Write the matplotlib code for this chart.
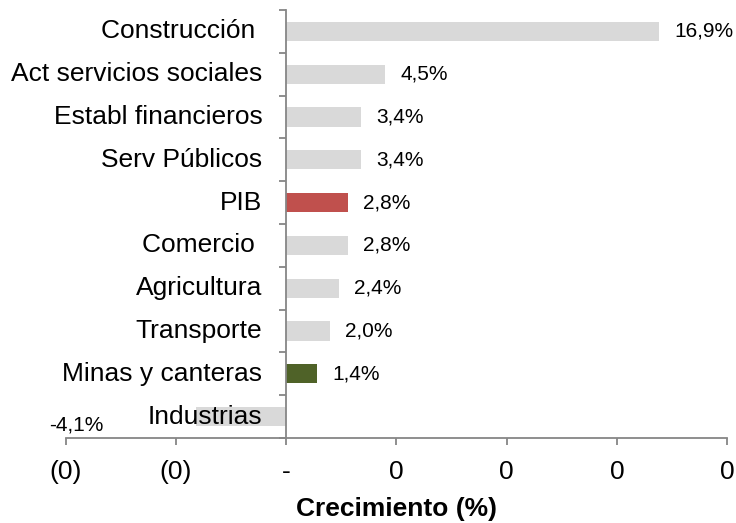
import matplotlib
matplotlib.use("Agg")
import matplotlib.pyplot as plt

plt.rcParams['font.family'] = ['Liberation Sans', 'DejaVu Sans']

categories = ["Construcción ", "Act servicios sociales", "Establ financieros",
              "Serv Públicos", "PIB", "Comercio ", "Agricultura", "Transporte",
              "Minas y canteras", "Industrias"]
values = [16.9, 4.5, 3.4, 3.4, 2.8, 2.8, 2.4, 2.0, 1.4, -4.1]
colors = ["#d9d9d9", "#d9d9d9", "#d9d9d9", "#d9d9d9", "#c0504d",
          "#d9d9d9", "#d9d9d9", "#d9d9d9", "#4f6228", "#d9d9d9"]
xticks = [-0.10, -0.05, 0.0, 0.05, 0.10, 0.15, 0.20]
xtick_labels = ["(0)", "(0)", "-", "0", "0", "0", "0"]

fig = plt.figure(figsize=(7.36, 5.23), dpi=100)
ax = fig.add_axes([0.089, 0.1625, 0.899, 0.8185])

pos = list(range(len(categories)))
vals = [v / 100 for v in values]
ax.barh(pos, vals, height=0.45, color=colors, zorder=1)

ax.set_xlim(-0.10, 0.20)
ax.set_ylim(len(categories) - 0.5, -0.5)

grey = "#868686"
for s in ["top", "right"]:
    ax.spines[s].set_visible(False)
ax.spines["left"].set_position(("data", 0))
ax.spines["left"].set_color(grey)
ax.spines["bottom"].set_color(grey)
ax.spines["left"].set_linewidth(1.3)
ax.spines["bottom"].set_linewidth(1.3)

ax.set_xticks(xticks)
ax.set_xticklabels(xtick_labels, fontsize=19)
ax.tick_params(axis="x", length=5, width=1.3, color=grey, pad=10.5)

ax.set_yticks([p - 0.5 for p in pos] + [len(categories) - 0.5])
ax.set_yticklabels([])
ax.tick_params(axis="y", length=5, width=1.3, color=grey)

for i, (cat, v) in enumerate(zip(categories, vals)):
    ax.annotate(cat, xy=(0, i), xytext=(-17, 0), textcoords="offset points",
                ha="right", va="center", fontsize=19, zorder=3)
    lbl = f"{values[i]:.1f}%".replace(".", ",")
    if v >= 0:
        ax.annotate(lbl, xy=(v, i), xytext=(11, 0), textcoords="offset points",
                    ha="left", va="center", fontsize=15)
    else:
        ax.annotate(lbl, xy=(v, i), xytext=(-66, -6), textcoords="offset points",
                    ha="right", va="center", fontsize=15)

ax.set_xlabel("Crecimiento (%)", fontsize=19, fontweight="bold", labelpad=10)

fig.savefig("out.png", dpi=100)
